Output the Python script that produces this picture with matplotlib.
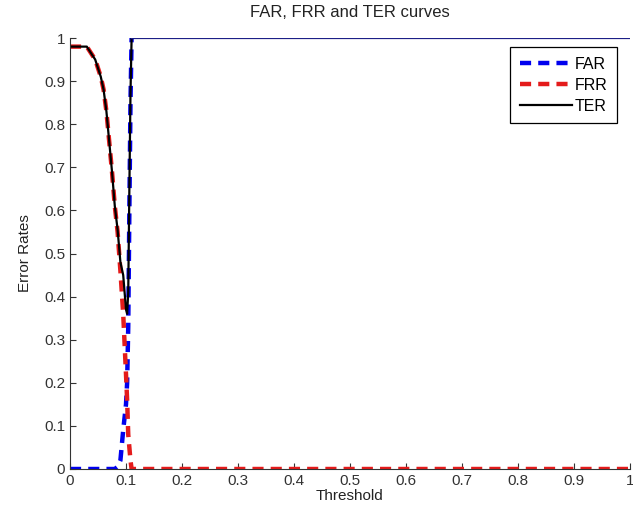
import matplotlib
matplotlib.use("Agg")
import matplotlib.pyplot as plt

# -- Data --
threshold = [0.0, 0.01, 0.02, 0.03, 0.035, 0.04, 0.045, 0.05, 0.055, 0.06,
             0.065, 0.07, 0.075, 0.08, 0.085, 0.09, 0.095, 0.1, 0.102, 0.104,
             0.106, 0.108, 0.11, 0.2, 0.3, 0.4, 0.5, 0.6, 0.7, 0.8, 0.9, 1.0]
far = [0.0, 0.0, 0.0, 0.0, 0.0, 0.0, 0.0, 0.0, 0.0, 0.0,
       0.0, 0.0, 0.0, 0.0, 0.005, 0.02, 0.09, 0.15, 0.2, 0.33,
       0.6, 0.85, 1.0, 1.0, 1.0, 1.0, 1.0, 1.0, 1.0, 1.0, 1.0, 1.0]
frr = [0.98, 0.98, 0.98, 0.98, 0.97, 0.96, 0.95, 0.93, 0.91, 0.88,
       0.83, 0.76, 0.69, 0.61, 0.55, 0.46, 0.36, 0.22, 0.16, 0.08,
       0.05, 0.02, 0.0, 0.0, 0.0, 0.0, 0.0, 0.0, 0.0, 0.0, 0.0, 0.0]
ter = [a + b for a, b in zip(far, frr)]

x_ticks = [0, 0.1, 0.2, 0.3, 0.4, 0.5, 0.6, 0.7, 0.8, 0.9, 1]
y_ticks = [0, 0.1, 0.2, 0.3, 0.4, 0.5, 0.6, 0.7, 0.8, 0.9, 1]
tick_labels = ["0", "0.1", "0.2", "0.3", "0.4", "0.5", "0.6", "0.7", "0.8", "0.9", "1"]

plt.rcParams["font.family"] = ["Liberation Sans", "DejaVu Sans"]

# index where FAR first saturates at 1 -> beyond it the curves sit on the top edge
sat = far.index(1.0)

fig = plt.figure(figsize=(6.33, 5.18), dpi=100)
ax = fig.add_axes([70 / 633, 1 - 469 / 518, 560 / 633, 431 / 518])

ax.plot(threshold[:sat + 1], far[:sat + 1], color="#0000ee", linestyle="--",
        linewidth=3.2, dashes=(2.5, 1.6), label="FAR")
ax.plot(threshold, frr, color="#e41b1b", linestyle="--", linewidth=3.2,
        dashes=(2.5, 1.6), label="FRR")
ax.plot(threshold[:sat + 1], ter[:sat + 1], color="black", linewidth=1.6, label="TER")
# saturated part (FAR = TER = 1), drawn as a thin line on the top edge
ax.plot(threshold[sat:], far[sat:], color="#1c1f86", linewidth=1.6, clip_on=True)

ax.set_xlim(0, 1)
ax.set_ylim(0, 1)
ax.set_xticks(x_ticks)
ax.set_xticklabels(tick_labels)
ax.set_yticks(y_ticks)
ax.set_yticklabels(tick_labels)
ax.tick_params(direction="in", labelsize=11, length=4, width=0.8, colors="#333333")
ax.spines[["top", "right"]].set_visible(False)
ax.spines[["left", "bottom"]].set_color("#333333")

ax.set_xlabel("Threshold", fontsize=11, labelpad=1, color="#222222")
ax.set_ylabel("Error Rates", fontsize=11, labelpad=9, color="#222222")
ax.set_title("FAR, FRR and TER curves", fontsize=12, pad=15, color="#222222")

leg = ax.legend(loc="upper right", bbox_to_anchor=(0.977, 0.979), borderaxespad=0,
                fontsize=11.5, frameon=True, fancybox=False, framealpha=1,
                edgecolor="black", handlelength=3.3, borderpad=0.6,
                labelspacing=0.38, handletextpad=0.15)
leg.get_frame().set_linewidth(0.9)

fig.savefig("out.png", dpi=100)
